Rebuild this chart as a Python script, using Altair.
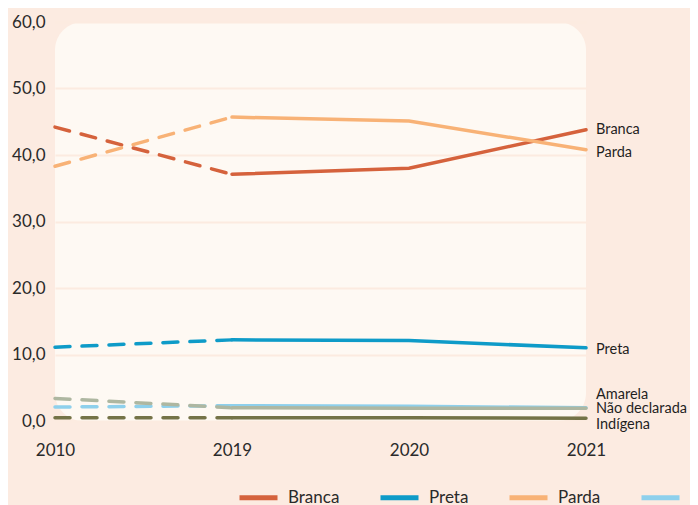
import altair as alt
import pandas as pd

years = ["2010", "2019", "2020", "2021"]
series = ["Branca", "Preta", "Parda", "Amarela", "Indígena", "Não declarada"]
values = {
    "Branca": [44.2, 37.1, 38.0, 43.8],
    "Preta": [11.1, 12.2, 12.1, 11.0],
    "Parda": [38.3, 45.7, 45.1, 40.8],
    "Amarela": [2.1, 2.3, 2.2, 2.0],
    "Indígena": [0.5, 0.5, 0.5, 0.4],
    "Não declarada": [3.4, 2.0, 1.9, 1.9],
}
colors = ["#D5623C", "#0E9BC8", "#F8B276", "#8ED0EC", "#747347", "#AEB7A1"]
label_dy = {"Branca": 0, "Preta": 2, "Parda": 3, "Amarela": -13, "Indígena": 7, "Não declarada": 1}

rows = []
for s in series:
    for y, v in zip(years, values[s]):
        rows.append({"serie": s, "ano": y, "valor": v})
df = pd.DataFrame(rows)

font = "Lato"
x_enc = alt.X("ano:O", scale=alt.Scale(domain=years, type="point", padding=0),
              axis=alt.Axis(title=None, labelAngle=0, domain=False, ticks=False,
                            labelFontSize=17, labelPadding=21, labelColor="#2a2a2a",
                            labelFont=font, grid=False))
y_enc = alt.Y("valor:Q", scale=alt.Scale(domain=[0, 60], nice=False),
              axis=alt.Axis(title=None, values=[0, 10, 20, 30, 40, 50, 60], domain=False,
                            ticks=False, labelFontSize=17, labelPadding=10,
                            labelColor="#2a2a2a", labelFont=font,
                            labelExpr="replace(format(datum.value, '.1f'), '.', ',')",
                            gridColor="#FCEBE0", gridWidth=2))
color_enc = alt.Color("serie:N", scale=alt.Scale(domain=series, range=colors),
                      legend=alt.Legend(title=None, orient="none", legendX=182, legendY=454,
                                        direction="horizontal", symbolType="stroke",
                                        symbolSize=1444, symbolStrokeWidth=5,
                                        labelFontSize=17, labelFont=font, labelColor="#2a2a2a",
                                        columnPadding=30, labelOffset=8))

base = alt.Chart(df)

dashed = base.transform_filter(
    alt.FieldOneOfPredicate(field="ano", oneOf=["2010", "2019"])
).mark_line(strokeWidth=3.5, strokeDash=[15, 12], strokeCap="round").encode(
    x=x_enc, y=y_enc, color=color_enc, detail="serie:N"
)

solid = base.transform_filter(
    alt.FieldOneOfPredicate(field="ano", oneOf=["2019", "2020", "2021"])
).mark_line(strokeWidth=3.5, strokeCap="round").encode(
    x=x_enc, y=y_enc, color=alt.Color("serie:N", scale=alt.Scale(domain=series, range=colors), legend=None),
    detail="serie:N"
)

labels_df = pd.DataFrame({
    "serie": series,
    "ano": ["2021"] * len(series),
    "valor": [values[s][-1] for s in series],
})

texts = []
for s in series:
    t = alt.Chart(labels_df[labels_df.serie == s]).mark_text(
        align="left", baseline="middle", dx=10, dy=label_dy[s], fontSize=14.5, font=font, color="#1f1f1f"
    ).encode(x=alt.X("ano:O", scale=alt.Scale(domain=years, type="point", padding=0)),
             y=alt.Y("valor:Q", scale=alt.Scale(domain=[0, 60], nice=False)),
             text="serie:N")
    texts.append(t)

chart = alt.layer(dashed, solid, *texts).properties(
    width=531, height=399,
    autosize=alt.AutoSizeParams(type="none"),
    padding={"left": 47, "top": 14, "right": 104, "bottom": 84},
    background="#FCEBE1",
).configure_view(
    fill="#FEF9F3", stroke=None, cornerRadius=28
)

chart.save("out.html", embed_options={"renderer": "svg", "actions": False})
